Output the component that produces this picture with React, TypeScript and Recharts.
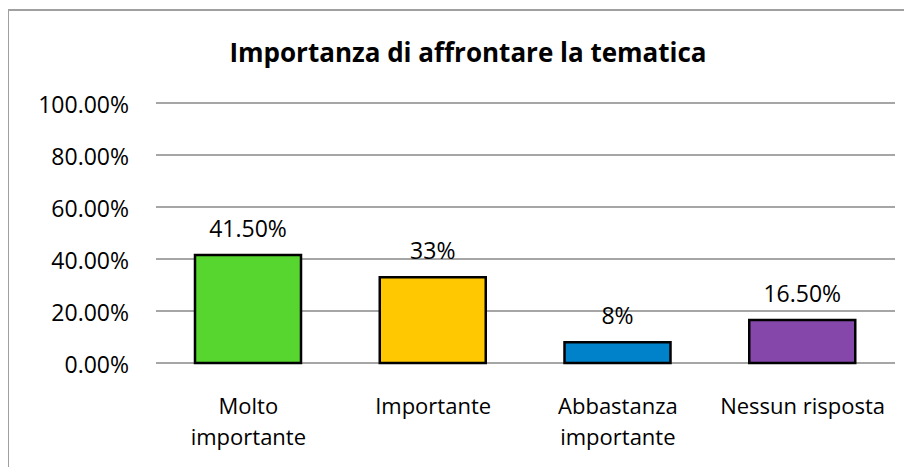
import React from "react";
import { BarChart, Bar, XAxis, YAxis, CartesianGrid, Cell, LabelList } from "recharts";

const categories = ["Molto importante", "Importante", "Abbastanza importante", "Nessun risposta"];
const values = [41.5, 33, 8, 16.5];
const valueLabels = ["41.50%", "33%", "8%", "16.50%"];
const colors = ["#56D62E", "#FFC800", "#0082CA", "#8647AA"];
const yTicks = [0, 20, 40, 60, 80, 100];
const title = "Importanza di affrontare la tematica";

const data = categories.map((c, i) => ({ name: c, value: values[i], label: valueLabels[i] }));

const FONT = "'Open Sans', 'Noto Sans', sans-serif";

const XTick = (props: any) => {
  const { x, y, payload } = props;
  const text: string = payload.value;
  const lines = text.length > 15 ? text.split(" ") : [text];
  return (
    <text x={x} y={y + 43} textAnchor="middle" fill="#000" fontSize={22} fontFamily={FONT}>
      {lines.map((l, i) => (
        <tspan key={i} x={x} dy={i === 0 ? 0 : 30.5}>
          {l}
        </tspan>
      ))}
    </text>
  );
};

export default function App() {
  return (
    <div style={{ position: "relative", width: 896, height: 459 }}>
      <div
        style={{
          position: "absolute",
          left: -1,
          top: 1,
          width: 905,
          height: 466,
          borderLeft: "2px solid #a0a0a0",
          borderTop: "2px solid #a0a0a0",
          boxSizing: "border-box",
          background: "#fff",
        }}
      >
        <BarChart width={903} height={464} data={data} margin={{ top: 92, right: 17, left: 0, bottom: 0 }} barSize={106}>
          <CartesianGrid horizontal vertical={false} stroke="#a6a6a6" strokeWidth={2} />
          <XAxis dataKey="name" axisLine={false} tickLine={false} height={112} tick={<XTick />} interval={0} />
          <YAxis
            domain={[0, 100]}
            ticks={yTicks}
            width={147}
            axisLine={false}
            tickLine={false}
            tickMargin={21}
            tickFormatter={(v: number) => `${v.toFixed(2)}%`}
            tick={{ fill: "#000", fontSize: 23, fontFamily: FONT, dy: 2 }}
          />
          <Bar dataKey="value" stroke="#000" strokeWidth={2.5} isAnimationActive={false}>
            {data.map((d, i) => (
              <Cell key={i} fill={colors[i]} />
            ))}
            <LabelList dataKey="label" position="top" offset={18} fill="#000" fontSize={23} fontFamily={FONT} />
          </Bar>
        </BarChart>
      </div>
      <div
        style={{
          position: "absolute",
          left: 160,
          top: 31,
          width: 600,
          textAlign: "center",
          fontFamily: FONT,
          fontWeight: "bold",
          fontSize: 26,
          lineHeight: "26px",
          color: "#000",
          whiteSpace: "nowrap",
        }}
      >
        {title}
      </div>
    </div>
  );
}
